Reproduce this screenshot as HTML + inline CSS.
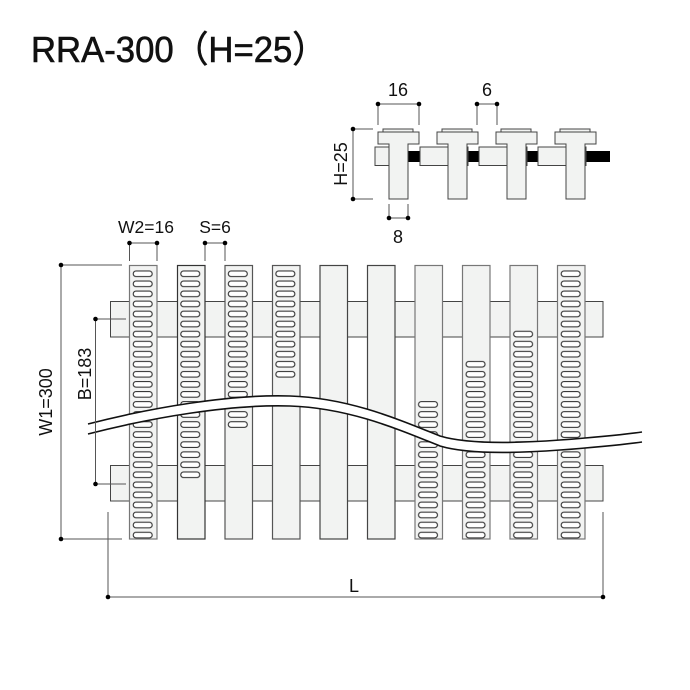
<!DOCTYPE html>
<html><head><meta charset="utf-8"><style>
html,body{margin:0;padding:0;background:#fff}
svg{display:block}
text{font-family:"Liberation Sans",sans-serif;fill:#111}
</style></head><body>
<svg width="690" height="690" viewBox="0 0 690 690" xmlns="http://www.w3.org/2000/svg">
<defs>
<pattern id="sl" patternUnits="userSpaceOnUse" x="129" y="269" width="47.55" height="10.05">
<rect x="4.2" y="2" width="19" height="5.6" rx="2.8" fill="#fff" stroke="#333" stroke-width="1.1"/>
</pattern>
</defs>
<text x="31" y="62" font-size="36.5" textLength="296" lengthAdjust="spacingAndGlyphs" stroke="#111" stroke-width="0.6">RRA-300（H=25）</text>

<!-- top section -->
<g stroke="#555" stroke-width="1">
<line x1="378" y1="104" x2="378" y2="125"/><line x1="419" y1="104" x2="419" y2="125"/>
<line x1="378" y1="104" x2="419" y2="104"/>
<line x1="477" y1="104" x2="477" y2="125"/><line x1="497" y1="104" x2="497" y2="125"/>
<line x1="477" y1="104" x2="497" y2="104"/>
<line x1="353" y1="129" x2="353" y2="199"/>
<line x1="353" y1="129" x2="373" y2="129"/><line x1="353" y1="199" x2="373" y2="199"/>
<line x1="389" y1="204" x2="389" y2="218"/><line x1="408" y1="204" x2="408" y2="218"/>
<line x1="389" y1="218" x2="408" y2="218"/>
</g>
<g fill="#000">
<circle cx="378" cy="104" r="2.3"/><circle cx="419" cy="104" r="2.3"/>
<circle cx="477" cy="104" r="2.3"/><circle cx="497" cy="104" r="2.3"/>
<circle cx="353" cy="129" r="2.3"/><circle cx="353" cy="199" r="2.3"/>
<circle cx="389" cy="218" r="2.3"/><circle cx="408" cy="218" r="2.3"/>
</g>
<text x="398" y="96" font-size="18" text-anchor="middle">16</text>
<text x="487" y="96" font-size="18" text-anchor="middle">6</text>
<text x="398" y="243" font-size="18" text-anchor="middle">8</text>
<text transform="translate(347,164) rotate(-90)" font-size="18" text-anchor="middle">H=25</text>

<rect x="375" y="151" width="235" height="11" fill="#000"/>
<g fill="#f2f3f2" stroke="#444" stroke-width="1">
<rect x="375" y="147" width="33" height="18.5"/>
<rect x="420" y="147" width="48" height="18.5"/>
<rect x="479" y="147" width="48" height="18.5"/>
<rect x="538" y="147" width="48" height="18.5"/>
</g>
<g id="T" fill="#f2f3f2" stroke="#444" stroke-width="1">
<rect x="383" y="129" width="30" height="3"/>
<path d="M378,132H419V144H408V199H389V144H378Z"/>
</g>
<use href="#T" x="59"/><use href="#T" x="118"/><use href="#T" x="177"/>

<!-- crossbars -->
<g fill="#f2f3f2" stroke="#444" stroke-width="1">
<rect x="110.5" y="301.5" width="492.5" height="35.5"/>
<rect x="110.5" y="465.5" width="492.5" height="35.5"/>
</g>
<!-- bars -->
<g fill="#f2f3f2" stroke-width="1.2">
<rect x="129.5" y="265.5" width="27.5" height="273.5" stroke="#777"/>
<rect x="177.5" y="265.5" width="27.5" height="273.5" stroke="#333"/>
<rect x="225" y="265.5" width="27.5" height="273.5" stroke="#555"/>
<rect x="272.5" y="265.5" width="27.5" height="273.5" stroke="#555"/>
<rect x="320" y="265.5" width="27.5" height="273.5" stroke="#444"/>
<rect x="367.5" y="265.5" width="27.5" height="273.5" stroke="#444"/>
<rect x="415" y="265.5" width="27.5" height="273.5" stroke="#777"/>
<rect x="462.5" y="265.5" width="27.5" height="273.5" stroke="#777"/>
<rect x="510" y="265.5" width="27.5" height="273.5" stroke="#777"/>
<rect x="557.5" y="265.5" width="27.5" height="273.5" stroke="#777"/>
</g>
<g fill="url(#sl)">
<rect x="129.5" y="269" width="27.5" height="271.4"/>
<rect x="177" y="269" width="27.5" height="211"/>
<rect x="224.6" y="269" width="27.5" height="160.8"/>
<rect x="272.1" y="269" width="27.5" height="110.6"/>
<rect x="414.8" y="400.6" width="27.5" height="140"/>
<rect x="462.4" y="360.4" width="27.5" height="180"/>
<rect x="509.9" y="330.2" width="27.5" height="210"/>
<rect x="557.5" y="269" width="27.5" height="271.4"/>
</g>
<!-- wave band -->
<path d="M88,424 C150,408 230,394 290,396 C350,398 400,420 440,436 C470,445 520,443 560,440 C600,437 620,435 642,432 L642,442 C620,445 600,447 560,450 C520,453 470,455 440,446 C400,430 350,408 290,406 C230,404 150,418 88,434 Z" fill="#fff"/>
<g fill="none" stroke="#111" stroke-width="1.6">
<path d="M88,424 C150,408 230,394 290,396 C350,398 400,420 440,436 C470,445 520,443 560,440 C600,437 620,435 642,432"/>
<path d="M88,434 C150,418 230,404 290,406 C350,408 400,430 440,446 C470,455 520,453 560,450 C600,447 620,445 642,442"/>
</g>

<!-- left dims -->
<g stroke="#555" stroke-width="1">
<line x1="129.5" y1="243" x2="129.5" y2="261"/><line x1="157" y1="243" x2="157" y2="261"/>
<line x1="129.5" y1="243" x2="157" y2="243"/>
<line x1="205" y1="243" x2="205" y2="261"/><line x1="225" y1="243" x2="225" y2="261"/>
<line x1="205" y1="243" x2="225" y2="243"/>
<line x1="61" y1="265" x2="61" y2="539"/>
<line x1="61" y1="265" x2="122" y2="265"/><line x1="61" y1="539" x2="122" y2="539"/>
<line x1="95.5" y1="319" x2="95.5" y2="484"/>
<line x1="95.5" y1="319" x2="126" y2="319"/><line x1="95.5" y1="484" x2="126" y2="484"/>
<line x1="108" y1="512" x2="108" y2="597"/><line x1="603" y1="512" x2="603" y2="597"/>
<line x1="108" y1="597" x2="603" y2="597"/>
</g>
<g fill="#000">
<circle cx="129.5" cy="243" r="2.3"/><circle cx="157" cy="243" r="2.3"/>
<circle cx="205" cy="243" r="2.3"/><circle cx="225" cy="243" r="2.3"/>
<circle cx="61" cy="265" r="2.3"/><circle cx="61" cy="539" r="2.3"/>
<circle cx="95.5" cy="319" r="2.3"/><circle cx="95.5" cy="484" r="2.3"/>
<circle cx="108" cy="597" r="2.3"/><circle cx="603" cy="597" r="2.3"/>
</g>
<text x="146" y="233" font-size="17.5" text-anchor="middle">W2=16</text>
<text x="215" y="233" font-size="17.5" text-anchor="middle">S=6</text>
<text transform="translate(52,402) rotate(-90)" font-size="18" text-anchor="middle">W1=300</text>
<text transform="translate(91,374) rotate(-90)" font-size="18" text-anchor="middle">B=183</text>
<text x="354" y="592" font-size="18" text-anchor="middle">L</text>
</svg>
</body></html>
